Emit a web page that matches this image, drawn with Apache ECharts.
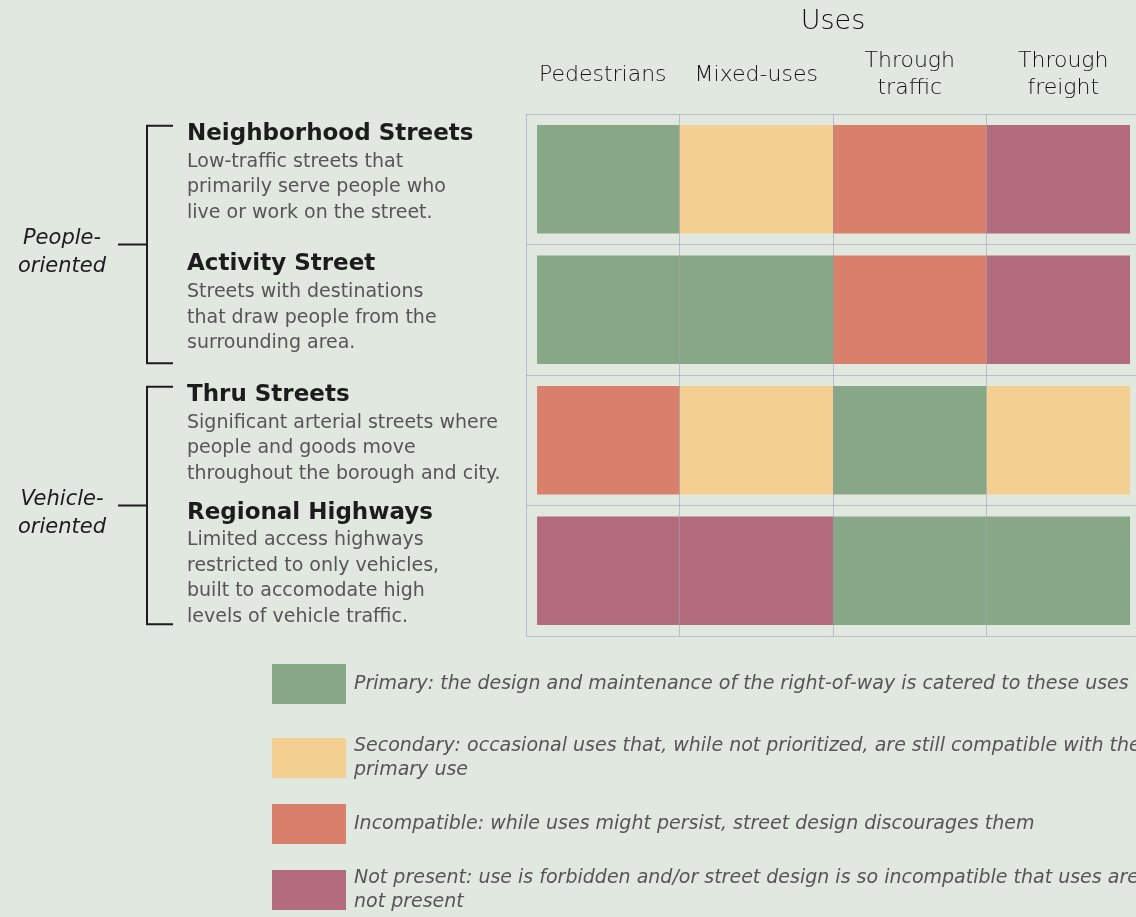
<!DOCTYPE html>
<html>
<head>
<meta charset="utf-8">
<script src="https://cdn.jsdelivr.net/npm/echarts@6/dist/echarts.min.js"></script>
<style>
html,body{margin:0;padding:0;background:#e1e8e0;}
#chart{width:1136px;height:917px;}
</style>
</head>
<body>
<div id="chart"></div>
<script>
// ---- data ----
const rows = ['Neighborhood Streets', 'Activity Street', 'Thru Streets', 'Regional Highways'];
const rowNotes = [
  'Low-traffic streets that\nprimarily serve people who\nlive or work on the street.',
  'Streets with destinations\nthat draw people from the\nsurrounding area.',
  'Significant arterial streets where\npeople and goods move\nthroughout the borough and city.',
  'Limited access highways\nrestricted to only vehicles,\nbuilt to accomodate high\nlevels of vehicle traffic.'
];
const uses = ['Pedestrians', 'Mixed-uses', 'Through\ntraffic', 'Through\nfreight'];
const levels = ['Primary', 'Secondary', 'Incompatible', 'Not present'];
const levelNotes = [
  'Primary: the design and maintenance of the right-of-way is catered to these uses',
  'Secondary: occasional uses that, while not prioritized, are still compatible with the\nprimary use',
  'Incompatible: while uses might persist, street design discourages them',
  'Not present: use is forbidden and/or street design is so incompatible that uses are\nnot present'
];
// rating index (into levels) for each row (street type) and column (use)
const ratings = [
  [0, 1, 2, 3],
  [0, 0, 2, 3],
  [2, 1, 0, 1],
  [3, 3, 0, 0]
];
const groups = ['People-\noriented', 'Vehicle-\noriented'];
const groupRows = [[0, 1], [2, 3]];

// ---- styles ----
const levelColors = ['#88a787', '#f3cf91', '#d9806d', '#b36c7e'];
const legendTops = [664, 734, 804, 866];
const font = 'DejaVu Sans';

const chart = echarts.init(document.getElementById('chart'));

function renderItem(params, api) {
  const col = api.value(0), row = api.value(1);
  const c = api.coord([col, row]);
  const s = api.size([1, 1]);
  const h = s[1] * 0.83;
  let x0 = c[0] - s[0] / 2, x1 = c[0] + s[0] / 2;
  if (col === 0) x0 += s[0] * 0.072;
  if (col === uses.length - 1) x1 -= s[0] * 0.065;
  return {
    type: 'rect',
    shape: { x: x0, y: c[1] - h / 2, width: x1 - x0, height: h },
    style: api.style()
  };
}

const series = levels.map((lv, li) => {
  const data = [];
  ratings.forEach((r, ri) => r.forEach((v, ci) => { if (v === li) data.push([ci, ri]); }));
  return {
    name: lv,
    type: 'custom',
    renderItem: renderItem,
    encode: { x: 0, y: 1 },
    itemStyle: { color: levelColors[li] },
    data: data,
    z: 2
  };
});

const gridLine = { show: true, lineStyle: { color: 'rgba(150,148,172,0.5)', width: 1 } };

const option = {
  backgroundColor: '#e1e8e0',
  animation: false,
  grid: { left: 526, top: 114, width: 614, height: 522, outerBoundsMode: 'none', containLabel: false },
  xAxis: {
    type: 'category',
    position: 'top',
    data: uses,
    z: 3,
    name: 'Uses',
    nameLocation: 'middle',
    nameGap: 92,
    nameTextStyle: { fontFamily: font, fontWeight: 200, fontSize: 27, color: '#111111', verticalAlign: 'middle' },
    axisLine: { show: false },
    axisTick: { show: false },
    splitLine: gridLine,
    axisLabel: {
      interval: 0,
      margin: 39,
      verticalAlign: 'middle',
      fontFamily: font,
      fontWeight: 200,
      fontSize: 22,
      lineHeight: 27,
      color: '#111111'
    }
  },
  yAxis: {
    type: 'category',
    inverse: true,
    data: rows,
    z: 3,
    axisLine: { show: false },
    axisTick: { show: false },
    splitLine: gridLine,
    axisLabel: {
      interval: 0,
      margin: 339,
      align: 'left',
      verticalAlign: 'middle',
      padding: [0, 0, 14, 0],
      formatter: (value, idx) =>
        '{t|' + value + '}\n' + rowNotes[idx].split('\n').map(l => '{b|' + l + '}').join('\n'),
      rich: {
        t: { fontFamily: font, fontWeight: 'bold', fontSize: 23, lineHeight: 30, color: '#1c1c1c' },
        b: { fontFamily: font, fontSize: 19, lineHeight: 25.5, color: '#555555' }
      }
    }
  },
  legend: levels.map((lv, li) => ({
    data: [lv],
    orient: 'vertical',
    left: 272,
    top: legendTops[li],
    padding: 0,
    itemWidth: 74,
    itemHeight: 40,
    itemGap: 0,
    icon: 'rect',
    selectedMode: false,
    formatter: () => levelNotes[li],
    textStyle: {
      fontFamily: font,
      fontStyle: 'italic',
      fontWeight: 200,
      fontSize: 19,
      lineHeight: 24,
      color: '#555555',
      padding: [0, 0, 0, 3]
    }
  })),
  series: series
};

chart.setOption(option);

// brackets and group labels, positioned from the y axis
const graphics = [];
const band = chart.convertToPixel({ yAxisIndex: 0 }, 1) - chart.convertToPixel({ yAxisIndex: 0 }, 0);
groupRows.forEach((gr, gi) => {
  const cTop = chart.convertToPixel({ yAxisIndex: 0 }, gr[0]);
  const cBot = chart.convertToPixel({ yAxisIndex: 0 }, gr[gr.length - 1]);
  const top = cTop - band * 0.41;
  const bot = cBot + band * 0.41;
  const mid = (cTop + cBot) / 2;
  graphics.push({
    type: 'polyline',
    shape: { points: [[173, top], [147, top], [147, bot], [173, bot]] },
    style: { stroke: '#1c1c1c', lineWidth: 2, fill: null }
  });
  graphics.push({
    type: 'line',
    shape: { x1: 118, y1: mid, x2: 147, y2: mid },
    style: { stroke: '#1c1c1c', lineWidth: 2 }
  });
  graphics.push({
    type: 'text',
    x: 62,
    y: mid + 8,
    style: {
      text: groups[gi],
      align: 'center',
      verticalAlign: 'middle',
      fontFamily: font,
      fontStyle: 'italic',
      fontWeight: 200,
      fontSize: 21,
      lineHeight: 28,
      fill: '#1c1c1c'
    }
  });
});
chart.setOption({ graphic: graphics });
</script>
</body>
</html>
